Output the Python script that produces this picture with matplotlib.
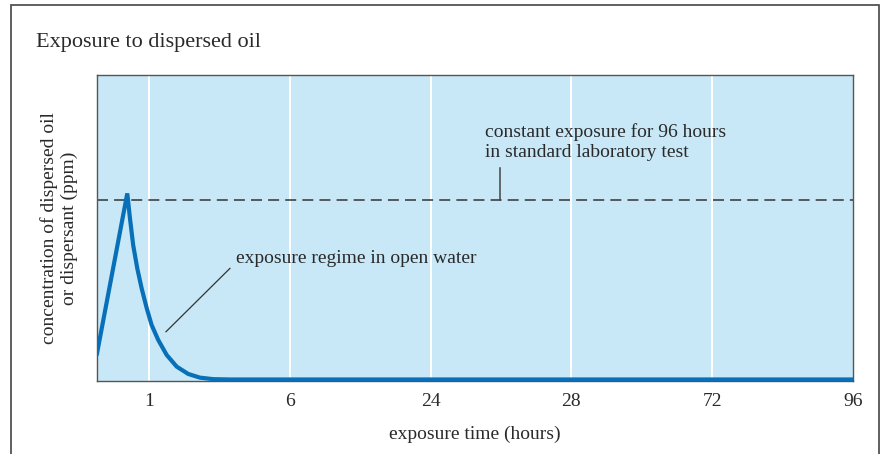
import matplotlib
matplotlib.use("Agg")
from matplotlib import pyplot as plt
from matplotlib.patches import Rectangle

plt.rcParams['font.family'] = ['Liberation Serif', 'DejaVu Serif']

# x axis is categorical-like: tick positions 1..6 carry these labels (hours)
tick_pos = [1, 2, 3, 4, 5, 6]
tick_labels = ["1", "6", "24", "28", "72", "96"]

# open-water exposure curve (x in tick-position units)
curve_x = [0.631, 0.846, 0.865, 0.888, 0.917, 0.948, 0.984, 1.019, 1.066,
           1.126, 1.197, 1.279, 1.362, 1.457, 1.575, 6.0]
curve_y = [0.090, 0.613, 0.532, 0.444, 0.368, 0.303, 0.238, 0.183, 0.134,
           0.085, 0.047, 0.023, 0.011, 0.006, 0.005, 0.005]

# constant laboratory exposure level
lab_level = 0.591

fig = plt.figure(figsize=(8.82, 4.54), dpi=100)
fig.patch.set_facecolor("white")

# outer frame (bottom edge runs off the picture)
fig.patches.append(Rectangle((11 / 882, -0.05), 868 / 882, 1.05 - 5 / 454,
                             transform=fig.transFigure, fill=False,
                             edgecolor="#444444", linewidth=1.2))

fig.text(36 / 882, 1 - 47 / 454, "Exposure to dispersed oil", fontsize=16,
         color="#2a2a2a", va="baseline")

ax = fig.add_axes([97 / 882, 73 / 454, 756 / 882, 306 / 454])
ax.set_facecolor("#c8e8f8")
ax.set_xlim(0.631, 6.0)
ax.set_ylim(0, 1)

for p in tick_pos[:-1]:
    ax.axvline(p, color="white", linewidth=1.4, zorder=1)

ax.axhline(lab_level, color="#333333", linewidth=1.1, dashes=(7.2, 4.0), zorder=2)
ax.plot(curve_x, curve_y, color="#0870b8", linewidth=3.0, zorder=3,
        solid_joinstyle="miter")

ax.set_xticks(tick_pos)
ax.set_xticklabels(tick_labels)
ax.set_yticks([])
ax.tick_params(axis="x", length=0, pad=9, labelsize=14, labelcolor="#2a2a2a")
for s in ax.spines.values():
    s.set_color("#555555")
    s.set_linewidth(1.0)

ax.set_xlabel("exposure time (hours)", fontsize=14, color="#2a2a2a", labelpad=11)
ax.set_ylabel("concentration of dispersed oil\nor dispersant (ppm)", fontsize=14,
              color="#2a2a2a", labelpad=14, linespacing=1.15)

# annotations
ax.text(3.386, 0.798, "constant exposure for 96 hours", fontsize=14,
        color="#2a2a2a", va="baseline")
ax.text(3.386, 0.731, "in standard laboratory test", fontsize=14,
        color="#2a2a2a", va="baseline")
ax.plot([3.493, 3.493], [0.695, lab_level], color="#444444", linewidth=1.1)

ax.text(1.618, 0.386, "exposure regime in open water", fontsize=14,
        color="#2a2a2a", va="baseline")
ax.plot([1.575, 1.121], [0.368, 0.161], color="#333333", linewidth=0.9)

fig.savefig("out.png", dpi=100)
